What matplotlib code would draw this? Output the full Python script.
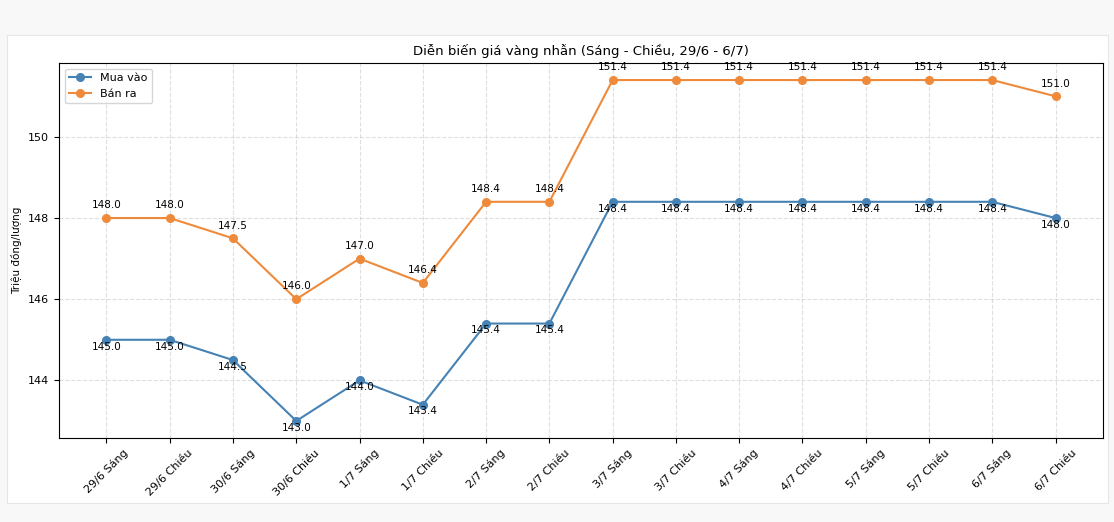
import matplotlib
matplotlib.use('Agg')
import matplotlib.pyplot as plt
from matplotlib.patches import Rectangle

# Data
labels = ['29/6 Sáng', '29/6 Chiều', '30/6 Sáng', '30/6 Chiều', '1/7 Sáng', '1/7 Chiều',
          '2/7 Sáng', '2/7 Chiều', '3/7 Sáng', '3/7 Chiều', '4/7 Sáng', '4/7 Chiều',
          '5/7 Sáng', '5/7 Chiều', '6/7 Sáng', '6/7 Chiều']
mua_vao = [145.0, 145.0, 144.5, 143.0, 144.0, 143.4, 145.4, 145.4,
           148.4, 148.4, 148.4, 148.4, 148.4, 148.4, 148.4, 148.0]
ban_ra = [148.0, 148.0, 147.5, 146.0, 147.0, 146.4, 148.4, 148.4,
          151.4, 151.4, 151.4, 151.4, 151.4, 151.4, 151.4, 151.0]

W, H = 1114, 522
fig = plt.figure(figsize=(W / 100, H / 100), dpi=100, facecolor='#f8f8f8')

# white page area of the screenshot
page = Rectangle((7 / W, 1 - 503 / H), (1108 - 7) / W, (503 - 35) / H,
                 transform=fig.transFigure, facecolor='white',
                 edgecolor='#e6e6e6', linewidth=0.8, zorder=-10)
fig.patches.append(page)

ax = fig.add_axes([59 / W, 1 - 438 / H, (1103 - 59) / W, (438 - 63) / H])
ax.set_facecolor('white')

x = list(range(len(labels)))
ax.plot(x, mua_vao, marker='o', color='#4682b4', label='Mua vào', markersize=5.5, linewidth=1.5)
ax.plot(x, ban_ra, marker='o', color='#ef8a3a', label='Bán ra', markersize=5.5, linewidth=1.5)

# value labels: buy below, sell above
for i, v in enumerate(mua_vao):
    ax.annotate(f'{v:.1f}', (i, v), textcoords='offset points', xytext=(0, -7),
                ha='center', fontsize=7.5)
for i, v in enumerate(ban_ra):
    ax.annotate(f'{v:.1f}', (i, v), textcoords='offset points', xytext=(0, 7),
                ha='center', fontsize=7.5)

ax.set_xticks(x)
ax.set_xticklabels(labels, rotation=45, fontsize=8)
ax.tick_params(axis='y', labelsize=8)
ax.set_ylabel('Triệu đồng/lượng', fontsize=7.5)
ax.set_title('Diễn biến giá vàng nhẫn (Sáng - Chiều, 29/6 - 6/7)', fontsize=9.5)
ax.grid(True, linestyle='--', alpha=0.4)
ax.legend(loc='upper left', fontsize=8)

fig.savefig('out.png', dpi=100, facecolor=fig.get_facecolor())
